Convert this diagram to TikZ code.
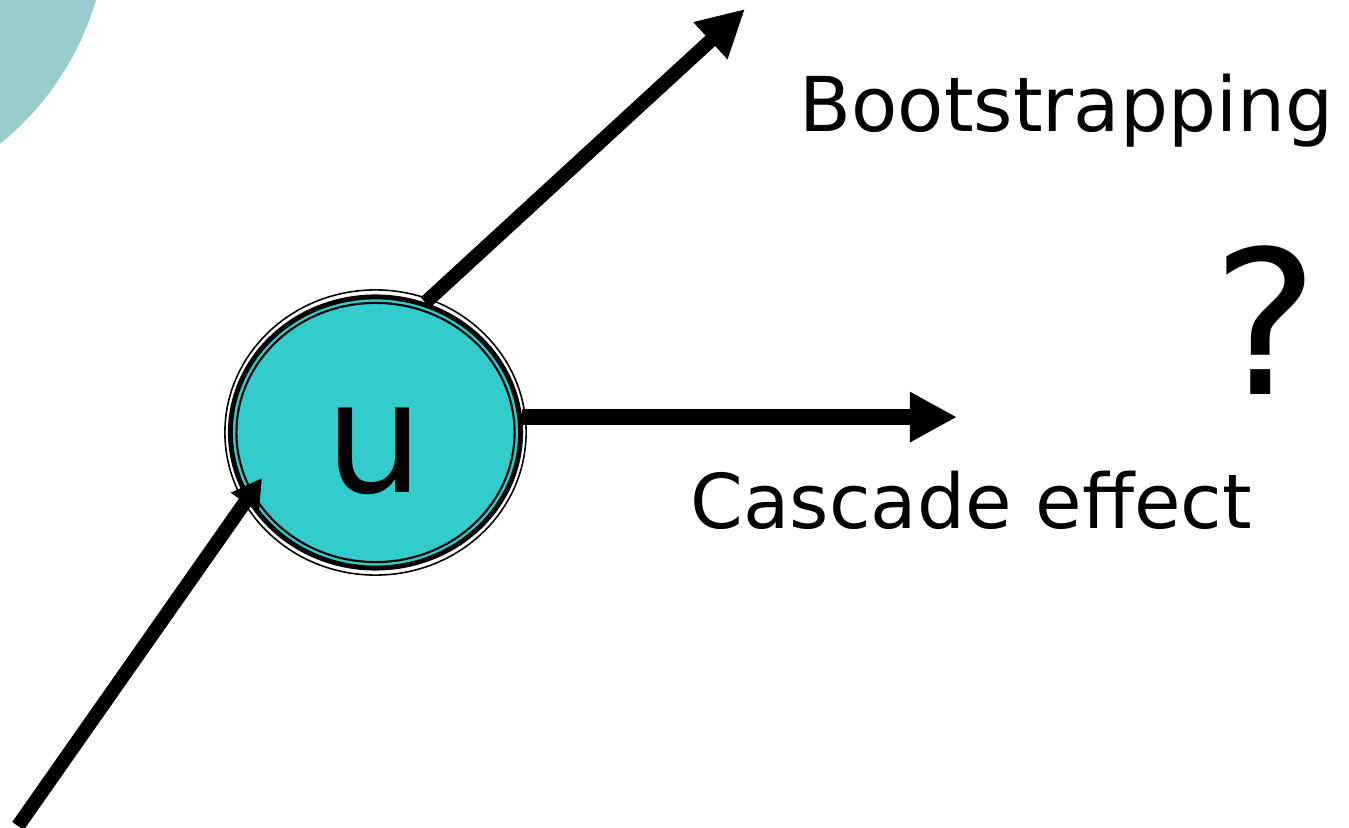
\documentclass[tikz,border=0pt]{standalone}
\usepackage{fontspec}
\setmainfont{DejaVu Sans}
\usetikzlibrary{arrows.meta,calc,positioning,shapes.geometric}
\definecolor{nodeteal}{HTML}{33CCCC}
\definecolor{backteal}{HTML}{99CCCC}
\tikzstyle{arrow}=[
  color=black,
  draw=black,
  line width=4pt,
]
\tikzstyle{arrowlabel}=[
  color=black,
  inner sep=0pt,
  font={\fontsize{21.5pt}{26pt}\selectfont},
]
\tikzset{
  >={Triangle[length=4.7mm,width=4.7mm]},
}

\begin{document}
\begin{tikzpicture}[x=.01cm,y=-.01cm]
  \useasboundingbox (0,0) rectangle (1349,828);
  \clip (0,0) rectangle (1349,828);
  \fill [backteal] (-180,-80) circle (2.87cm);
  % node u with its three rings
  \node [ellipse, draw, line width=1.4pt, fill=nodeteal,
  minimum width=2.9cm, minimum height=2.71cm, inner sep=0pt] (u) at (375.5,432.5) {};
  \draw [line width=.6pt] (u.center) ellipse [x radius=1.39cm, y radius=1.295cm];
  \draw [line width=.45pt] (u.center) ellipse [x radius=1.505cm, y radius=1.425cm];
  \node [arrowlabel, anchor=base, font={\fontsize{44pt}{50pt}\selectfont}]
  (ulabel) at (375,493) {u};
  \coordinate (boot) at (745,9);
  \coordinate (casc) at (957,417);
  \coordinate (src) at (18,826);
  \coordinate (hit) at (262,478);
  \draw [->,arrow] (u.69) -- (boot);
  \draw [->,arrow,line width=4.6pt] (u.6) -- (u.6 -| casc);
  \draw [arrow,-{Triangle[length=3mm,width=3.2mm]}] (src) -- (hit);
  \node [arrowlabel, anchor=base west] (bootlabel) at (799,132) {Bootstrapping};
  \node [arrowlabel, anchor=base west] (casclabel) at (690,529) {Cascade effect};
  \node [arrowlabel, anchor=base, font={\fontsize{57pt}{64pt}\selectfont}]
  (query) at (1266,395) {?};
\end{tikzpicture}
\end{document}
